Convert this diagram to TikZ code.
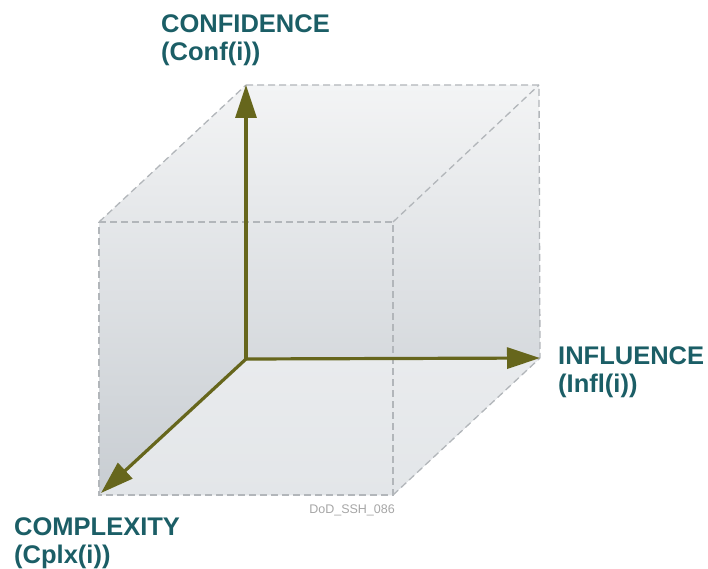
\documentclass[tikz,border=0pt]{standalone}
\usepackage{fontspec}
\setmainfont{Liberation Sans}
\usetikzlibrary{arrows.meta}
\definecolor{axiscol}{HTML}{66661C}
\definecolor{labelcol}{HTML}{1B5E66}
\definecolor{edgecol}{HTML}{B2B6BA}
\definecolor{tagcol}{HTML}{A6A6A6}
\definecolor{shtop}{HTML}{F3F4F5}
\definecolor{shbot}{HTML}{C8CDD2}
\definecolor{floortop}{HTML}{E9EBED}
\definecolor{floorbot}{HTML}{E3E6E9}
\tikzset{
  edge/.style={draw=edgecol, line width=1.3pt, dash pattern=on 7pt off 4pt},
  axis/.style={draw=axiscol, line width=3.2pt, -{Triangle[length=33pt,width=21pt]}},
  axlabel/.style={text=labelcol, font=\fontsize{25.5}{28.5}\selectfont\bfseries, align=left, inner sep=0pt, anchor=north west},
  tag/.style={text=tagcol, font=\fontsize{12.5}{14}\selectfont, inner sep=0pt, anchor=north east}
}
\begin{document}
\begin{tikzpicture}[x=1pt,y=-1pt]
\useasboundingbox (0,0) rectangle (708,569);
% cube corners
\coordinate (O) at (246,359);
\coordinate (BTL) at (246,85);
\coordinate (BTR) at (539,85);
\coordinate (BBR) at (540,358);
\coordinate (FTL) at (99,222);
\coordinate (FTR) at (393,222);
\coordinate (FBL) at (99,495);
\coordinate (FBR) at (393,495);
% fills
\shade[top color=shtop, bottom color=shbot] (FTL) -- (BTL) -- (BTR) -- (BBR) -- (FBR) -- (FBL) -- cycle;
\shade[top color=floortop, bottom color=floorbot] (O) -- (BBR) -- (FBR) -- (FBL) -- cycle;
% dashed edges
\path[edge] (FTL) -- (FTR) -- (FBR) -- (FBL) -- cycle;
\path[edge] (BTL) -- (BTR) -- (BBR);
\path[edge] (FTL) -- (BTL);
\path[edge] (FTR) -- (BTR);
\path[edge] (FBR) -- (BBR);
% axes
\coordinate (Ctip) at (101,493);
\draw[axis] (O) -- (BTL);
\draw[axis] (O) -- (BBR);
\draw[axis] (O) -- (Ctip);
% labels
\node[axlabel] (conf) at (161,14) {CONFIDENCE\\(Conf(i))};
\node[axlabel] (infl) at (558,346) {INFLUENCE\\(Infl(i))};
\node[axlabel] (cplx) at (14,517) {COMPLEXITY\\(Cplx(i))};
\node[tag] (code) at (395,505) {DoD\_SSH\_086};
\end{tikzpicture}
\end{document}
